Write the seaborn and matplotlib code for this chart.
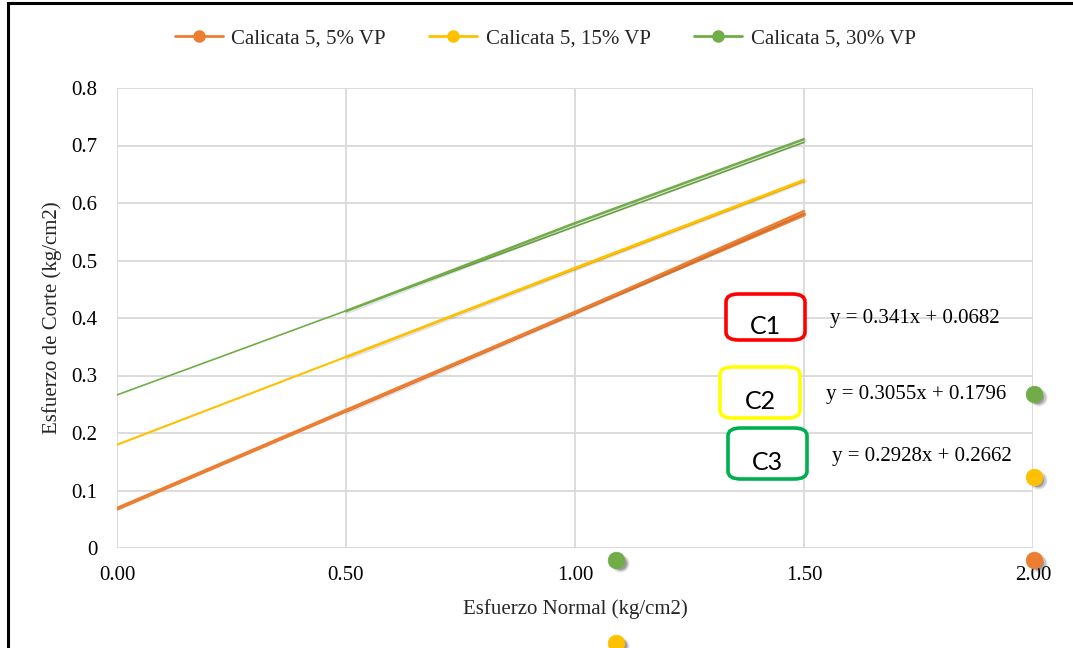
import numpy as np
import pandas as pd
import matplotlib
matplotlib.use("Agg")
import matplotlib.pyplot as plt
import matplotlib.patheffects as pe
from matplotlib.patches import FancyBboxPatch, Rectangle
from matplotlib.lines import Line2D
import matplotlib.transforms as mtrans
import seaborn as sns

# ---------------- data ----------------
series_names = ["Calicata 5, 5% VP", "Calicata 5, 15% VP", "Calicata 5, 30% VP"]
normal_stress = [0.5, 1.0, 1.5]
shear_5 = [0.238, 0.410, 0.586]
shear_15 = [0.332, 0.487, 0.640]
shear_30 = [0.412, 0.565, 0.711]
trend_slopes = [0.341, 0.3055, 0.2928]
trend_intercepts = [0.0682, 0.1796, 0.2662]
trend_x_range = [0.0, 1.5]
equation_labels = ["y = 0.341x + 0.0682", "y = 0.3055x + 0.1796", "y = 0.2928x + 0.2662"]
box_labels = ["C1", "C2", "C3"]
x_ticks = [0.0, 0.5, 1.0, 1.5, 2.0]
x_tick_labels = ["0.00", "0.50", "1.00", "1.50", "2.00"]
y_ticks = [0, 0.1, 0.2, 0.3, 0.4, 0.5, 0.6, 0.7, 0.8]
y_tick_labels = ["0", "0.1", "0.2", "0.3", "0.4", "0.5", "0.6", "0.7", "0.8"]
# stray markers lying outside the plot area
stray_x = [1.09, 2.002, 2.002, 2.002, 1.09]
stray_y = [-0.021, -0.021, 0.123, 0.268, -0.165]
stray_series = [2, 0, 1, 2, 1]

colors = ["#ED7D31", "#FFC000", "#70AD47"]
box_colors = ["#FF0000", "#FFFF00", "#00B050"]

sns.set_theme(style="white")
plt.rcParams["font.family"] = ["Liberation Serif", "DejaVu Serif"]

df = pd.DataFrame({
    "x": normal_stress * 3,
    "y": shear_5 + shear_15 + shear_30,
    "serie": sum([[n] * len(normal_stress) for n in series_names], []),
})

W, H = 1073, 648
fig = plt.figure(figsize=(W / 100, H / 100), dpi=100)
ax = fig.add_axes([117 / W, 1 - 548 / H, (1033 - 117) / W, (548 - 88) / H])

shadow = [pe.SimpleLineShadow(offset=(1.2, -1.2), alpha=0.12, rho=0.3), pe.Normal()]
widths = [2.8, 1.5, 1.2]

# trendlines
for i in range(3):
    tx = np.array(trend_x_range)
    ty = trend_slopes[i] * tx + trend_intercepts[i]
    sns.lineplot(x=tx, y=ty, ax=ax, color=colors[i], lw=widths[i], legend=False, zorder=3)

# data series
sns.lineplot(data=df, x="x", y="y", hue="serie", palette=colors, ax=ax, legend=False,
             lw=1.8, path_effects=shadow, zorder=4)

# stray markers with soft shadows
for sx, sy, si in zip(stray_x, stray_y, stray_series):
    for k, a in enumerate([0.12, 0.18, 0.28]):
        ax.plot([sx], [sy], "o", color="#303030", alpha=a, ms=13 - 1.8 * k, mew=0, clip_on=False,
                zorder=5, transform=ax.transData + mtrans.ScaledTranslation(
                    (4.0 - 0.3 * k) / 100, -(3.0 - 0.2 * k) / 100, fig.dpi_scale_trans))
    ax.plot([sx], [sy], "o", color=colors[si], ms=12, mec=colors[si], mew=0.5, clip_on=False,
            zorder=6)

ax.set_xlim(0, 2.0)
ax.set_ylim(0, 0.8)
ax.set_xticks(x_ticks)
ax.set_xticklabels(x_tick_labels)
ax.set_yticks(y_ticks)
ax.set_yticklabels(y_tick_labels)
ax.tick_params(axis="both", length=0, labelsize=15, colors="#000000")
ax.tick_params(axis="x", pad=13)
ax.tick_params(axis="y", pad=14)
ax.grid(True, color="#D9D9D9", lw=1.3)
ax.set_axisbelow(True)
for s in ax.spines.values():
    s.set_visible(False)
ax.set_xlabel("Esfuerzo Normal (kg/cm2)", fontsize=15, labelpad=10)
ax.set_ylabel("Esfuerzo de Corte (kg/cm2)", fontsize=15, labelpad=7)

# legend
handles = [Line2D([0], [0], color=c, lw=2, marker="o", ms=8) for c in colors]
fig.legend(handles, series_names, loc="center", bbox_to_anchor=(0.508, 1 - 39 / H), ncol=3,
           frameon=False, fontsize=15, handlelength=2.3, columnspacing=2.1, handletextpad=0.4)

# annotation boxes (pixel positions in figure)
boxes = [(726, 294, 805, 340), (720, 367, 800, 418), (728, 428, 807, 479)]
for (x0, y0, x1, y1), lab, bc in zip(boxes, box_labels, box_colors):
    p = FancyBboxPatch((x0 / W, 1 - y1 / H), (x1 - x0) / W, (y1 - y0) / H,
                       boxstyle="round,pad=0,rounding_size=0.012", transform=fig.transFigure,
                       fc="white", ec=bc, lw=2.6, zorder=5)
    fig.patches.append(p)
    fig.text((x0 + x1) / 2 / W, 1 - ((y0 + y1) / 2 + 9) / H, lab, ha="center", va="center",
             fontsize=18, family=["Lato", "DejaVu Sans"], color="black", zorder=7)

eq_pos = [(830, 318), (826, 394), (832, 457)]
for (px, py), t in zip(eq_pos, equation_labels):
    fig.text(px / W, 1 - py / H, t, ha="left", va="center", fontsize=15, color="#000000", zorder=7)

# outer frame
fig.patches.append(Rectangle((8 / W, -0.1), 1.2, 1 - 3 / H + 0.1, transform=fig.transFigure,
                             fill=False, ec="black", lw=2.2))

fig.savefig("out.png", dpi=100)
